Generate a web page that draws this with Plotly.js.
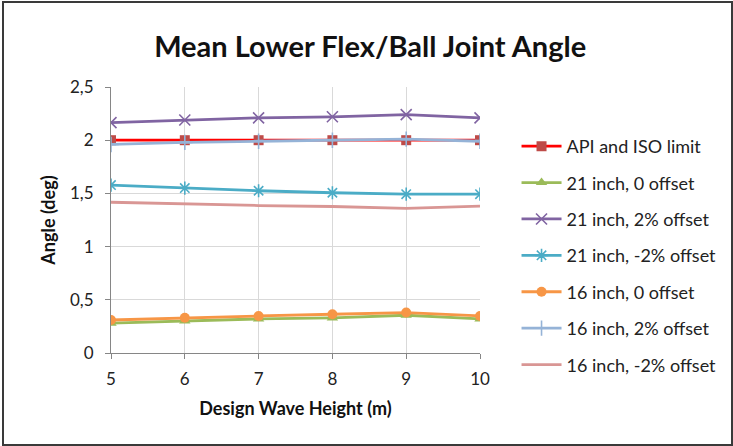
<!DOCTYPE html>
<html>
<head>
<meta charset="utf-8">
<script src="https://cdn.plot.ly/plotly-3.0.1.min.js"></script>
<style>
  html, body { margin: 0; padding: 0; background: #fff; }
  #wrap { position: relative; width: 733px; height: 446px; }
  #chart { width: 733px; height: 446px; }
  #frame { position: absolute; left: 2px; top: 1px; width: 727px; height: 441px;
           border: 2px solid #3a3a3a; pointer-events: none; }
</style>
</head>
<body>
<div id="wrap">
  <div id="chart"></div>
  <div id="frame"></div>
</div>
<script>
// Design wave height (m)
const waveHeight = [5, 6, 7, 8, 9, 10];

// Mean lower flex/ball joint angle (deg) per riser case
const apiIsoLimit    = [2.00, 2.00, 2.00, 2.00, 2.00, 2.00];
const in21Offset0    = [0.28, 0.30, 0.32, 0.33, 0.355, 0.32];
const in21OffsetP2   = [2.165, 2.19, 2.21, 2.22, 2.24, 2.21];
const in21OffsetM2   = [1.578, 1.55, 1.525, 1.506, 1.493, 1.493];
const in16Offset0    = [0.31, 0.332, 0.348, 0.364, 0.38, 0.348];
const in16OffsetP2   = [1.96, 1.98, 1.99, 2.00, 2.01, 1.99];
const in16OffsetM2   = [1.417, 1.40, 1.386, 1.377, 1.36, 1.38];

const seriesNames = [
  'API and ISO limit',
  '21 inch, 0 offset',
  '21 inch, 2% offset',
  '21 inch, -2% offset',
  '16 inch, 0 offset',
  '16 inch, 2% offset',
  '16 inch, -2% offset'
];

function series(name, y, lineColor, marker, group) {
  const t = {
    x: waveHeight, y: y, name: name, type: 'scatter',
    mode: marker ? 'lines+markers' : 'lines',
    line: { color: lineColor, width: 2.8 },
    legendgroup: group
  };
  if (marker) t.marker = marker;
  return t;
}

const traces = [
  series(seriesNames[0], apiIsoLimit, '#FF0000',
    { symbol: 'square', size: 10, color: '#BE4B48' }, 'g0'),
  series(seriesNames[1], in21Offset0, '#9BBB59',
    { symbol: 'triangle-up', size: 10, color: '#9BBB59' }, 'g1'),
  series(seriesNames[2], in21OffsetP2, '#8064A2',
    { symbol: 'x-thin-open', size: 11, color: '#8064A2', line: { color: '#8064A2', width: 1.6 } }, 'g2'),
  series(seriesNames[3], in21OffsetM2, '#4BACC6',
    { symbol: 'asterisk-open', size: 11, color: '#4BACC6', line: { color: '#4BACC6', width: 1.6 } }, 'g3'),
  series(seriesNames[4], in16Offset0, '#F79646',
    { symbol: 'circle', size: 10, color: '#F79646' }, 'g4'),
  series(seriesNames[5], in16OffsetP2, '#95B3D7',
    { symbol: 'cross-thin-open', size: 11, color: '#95B3D7', line: { color: '#95B3D7', width: 1.6 } }, 'g5'),
  series(seriesNames[6], in16OffsetM2, '#D99694', null, 'g6')
];

const font = 'Lato, "Open Sans", "Liberation Sans", sans-serif';

const layout = {
  width: 733, height: 446,
  margin: { l: 111, r: 251, t: 87, b: 93 },
  paper_bgcolor: '#ffffff', plot_bgcolor: '#ffffff',
  separators: ', ',
  font: { family: font, size: 18, color: '#222' },
  title: {
    text: '<b>Mean Lower Flex/Ball Joint Angle</b>',
    font: { family: font, size: 29, color: '#111' },
    xref: 'container', x: 0.505, xanchor: 'center',
    yref: 'container', y: 0.895, yanchor: 'middle'
  },
  xaxis: {
    range: [5, 10], tickvals: waveHeight,
    showgrid: true, gridcolor: '#d9d9d9', gridwidth: 1,
    showline: true, linecolor: '#868686', linewidth: 1,
    ticks: 'outside', ticklen: 5, tickcolor: '#868686',
    ticklabelstandoff: 6,
    tickfont: { family: font, size: 17, color: '#222' },
    zeroline: false,
    title: { text: '<b>Design Wave Height (m)</b>', font: { family: font, size: 18, color: '#111' }, standoff: 13 }
  },
  yaxis: {
    range: [0, 2.5], dtick: 0.5,
    showgrid: true, gridcolor: '#d9d9d9', gridwidth: 1,
    showline: true, linecolor: '#868686', linewidth: 1,
    ticks: 'outside', ticklen: 5, tickcolor: '#868686',
    ticklabelstandoff: 8,
    tickfont: { family: font, size: 17, color: '#222' },
    zeroline: false,
    title: { text: '<b>Angle (deg)</b>', font: { family: font, size: 18, color: '#111' }, standoff: 9 }
  },
  showlegend: true,
  legend: {
    x: 1.099, xanchor: 'left', y: 0.846, yanchor: 'top',
    font: { family: font, size: 18, color: '#222' },
    tracegroupgap: 10, itemwidth: 40,
    bgcolor: 'rgba(0,0,0,0)'
  }
};

Plotly.newPlot('chart', traces, layout, { displayModeBar: false, staticPlot: true });
</script>
</body>
</html>
